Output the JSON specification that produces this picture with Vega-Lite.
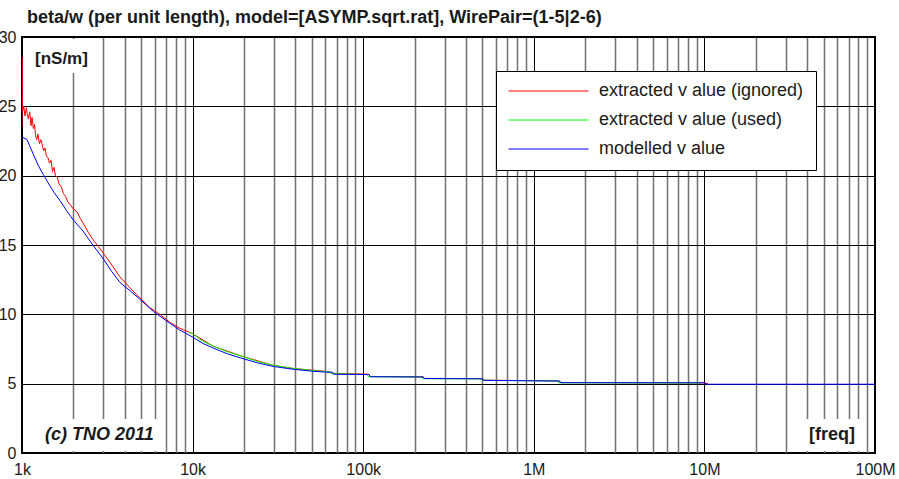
{
  "$schema": "https://vega.github.io/schema/vega-lite/v6.json",
  "width": 853,
  "height": 416,
  "autosize": {"type": "none"},
  "padding": {"left": 22, "top": 37, "right": 24, "bottom": 26},
  "background": "white",
  "view": {"stroke": "black", "strokeWidth": 2},
  "title": {
    "text": "beta/w (per unit length), model=[ASYMP.sqrt.rat], WirePair=(1-5|2-6)",
    "anchor": "start",
    "frame": "group",
    "dx": 5,
    "offset": -12,
    "baseline": "alphabetic",
    "font": "Liberation Sans",
    "fontSize": 18,
    "fontWeight": "bold",
    "color": "#1a1a1a"
  },
  "config": {
    "font": "Liberation Sans",
    "legend": {
      "orient": "none",
      "legendX": 474,
      "legendY": 34,
      "fillColor": "white",
      "strokeColor": "black",
      "strokeWidth": 1,
      "padding": 12,
      "symbolType": "stroke",
      "symbolSize": 6400,
      "symbolStrokeWidth": 1,
      "clipHeight": 16,
      "rowPadding": 11,
      "labelFont": "Liberation Sans",
      "labelFontSize": 18,
      "labelColor": "#1a1a1a",
      "labelOffset": 10,
      "labelLimit": 400,
      "title": null
    }
  },
  "datasets": {
    "ignored": [
      {"f": 1000, "v": 23.6}, {"f": 1001, "v": 28.5}, {"f": 1004, "v": 25.2}, {"f": 1010, "v": 24.7},
      {"f": 1025, "v": 25.0}, {"f": 1040, "v": 24.3}, {"f": 1060, "v": 24.9}, {"f": 1075, "v": 24.4},
      {"f": 1090, "v": 24.1}, {"f": 1110, "v": 24.6}, {"f": 1130, "v": 23.6}, {"f": 1145, "v": 24.2},
      {"f": 1165, "v": 23.4}, {"f": 1185, "v": 23.7}, {"f": 1200, "v": 22.9}, {"f": 1220, "v": 22.6},
      {"f": 1240, "v": 23.0}, {"f": 1265, "v": 22.3}, {"f": 1290, "v": 22.6}, {"f": 1320, "v": 22.1},
      {"f": 1340, "v": 21.8}, {"f": 1365, "v": 22.0}, {"f": 1390, "v": 21.4}, {"f": 1420, "v": 21.3},
      {"f": 1450, "v": 20.9}, {"f": 1480, "v": 21.1}, {"f": 1510, "v": 20.3}, {"f": 1540, "v": 20.6},
      {"f": 1570, "v": 20.0}, {"f": 1610, "v": 19.9}, {"f": 1650, "v": 19.4}, {"f": 1700, "v": 19.2},
      {"f": 1750, "v": 18.7}, {"f": 1800, "v": 18.5}, {"f": 1860, "v": 18.1}, {"f": 1920, "v": 17.9},
      {"f": 2000, "v": 17.6}, {"f": 2100, "v": 17.4}, {"f": 2200, "v": 16.9}, {"f": 2300, "v": 16.5},
      {"f": 2450, "v": 15.9}, {"f": 2600, "v": 15.4}, {"f": 2800, "v": 14.9}, {"f": 3000, "v": 14.4},
      {"f": 3300, "v": 13.7}, {"f": 3750, "v": 12.7}, {"f": 4300, "v": 11.9}, {"f": 4900, "v": 11.2},
      {"f": 5600, "v": 10.5}, {"f": 6500, "v": 9.95}, {"f": 7400, "v": 9.4}, {"f": 8400, "v": 9.0},
      {"f": 10000, "v": 8.6}, {"f": 13200, "v": 7.7}, {"f": 19800, "v": 6.95}, {"f": 29500, "v": 6.33},
      {"f": 38700, "v": 6.1}, {"f": 61000, "v": 5.88}, {"f": 66000, "v": 5.75}, {"f": 108000, "v": 5.68},
      {"f": 110000, "v": 5.52}, {"f": 225000, "v": 5.5}, {"f": 228000, "v": 5.38}, {"f": 500000, "v": 5.37},
      {"f": 505000, "v": 5.25}, {"f": 1400000, "v": 5.2}, {"f": 1430000, "v": 5.08}, {"f": 10000000, "v": 5.06},
      {"f": 10500000, "v": 5.0}
    ],
    "used": [
      {"f": 9500, "v": 8.7}, {"f": 10000, "v": 8.6}, {"f": 11500, "v": 8.05}, {"f": 13200, "v": 7.72},
      {"f": 16000, "v": 7.3}, {"f": 19800, "v": 6.95}, {"f": 24000, "v": 6.6}, {"f": 29500, "v": 6.33},
      {"f": 38700, "v": 6.1}, {"f": 50000, "v": 5.95}, {"f": 61000, "v": 5.86}, {"f": 64000, "v": 5.85},
      {"f": 65000, "v": 5.72}, {"f": 106000, "v": 5.66}, {"f": 107000, "v": 5.5}, {"f": 222000, "v": 5.48},
      {"f": 224000, "v": 5.36}, {"f": 495000, "v": 5.35}, {"f": 498000, "v": 5.24}, {"f": 1390000, "v": 5.2},
      {"f": 1400000, "v": 5.06}, {"f": 9500000, "v": 5.05}
    ],
    "model": [
      {"f": 1000, "v": 22.8}, {"f": 1070, "v": 22.6}, {"f": 1160, "v": 21.6}, {"f": 1250, "v": 20.7},
      {"f": 1330, "v": 20.1}, {"f": 1420, "v": 19.5}, {"f": 1540, "v": 18.8}, {"f": 1670, "v": 18.2},
      {"f": 1820, "v": 17.5}, {"f": 2000, "v": 16.8}, {"f": 2280, "v": 16.0}, {"f": 2600, "v": 15.0},
      {"f": 3000, "v": 14.0}, {"f": 3350, "v": 13.1}, {"f": 3750, "v": 12.3}, {"f": 4300, "v": 11.7},
      {"f": 4900, "v": 11.1}, {"f": 5900, "v": 10.2}, {"f": 6900, "v": 9.6}, {"f": 8400, "v": 8.87},
      {"f": 10000, "v": 8.36}, {"f": 11500, "v": 7.9}, {"f": 13200, "v": 7.57}, {"f": 16000, "v": 7.15},
      {"f": 19800, "v": 6.8}, {"f": 24000, "v": 6.5}, {"f": 29500, "v": 6.25}, {"f": 38700, "v": 6.04},
      {"f": 50000, "v": 5.9}, {"f": 61000, "v": 5.83}, {"f": 66000, "v": 5.83}, {"f": 67000, "v": 5.68},
      {"f": 108000, "v": 5.66}, {"f": 110000, "v": 5.5}, {"f": 225000, "v": 5.48}, {"f": 228000, "v": 5.37},
      {"f": 500000, "v": 5.35}, {"f": 505000, "v": 5.24}, {"f": 1420000, "v": 5.19}, {"f": 1440000, "v": 5.07},
      {"f": 10000000, "v": 5.06}, {"f": 10300000, "v": 4.96}, {"f": 100000000, "v": 4.96}
    ],
    "boxes": [
      {"f1": 1100, "f2": 2800, "v1": 27.4, "v2": 29.85},
      {"f1": 1400, "f2": 6600, "v1": 0.15, "v2": 2.45},
      {"f1": 35000000, "f2": 86000000, "v1": 0.15, "v2": 2.45}
    ],
    "notes": [
      {"f": 1192, "v": 28.4, "label": "[nS/m]", "kind": "unit"},
      {"f": 1364, "v": 1.3, "label": "(c) TNO 2011", "kind": "copyright"},
      {"f": 76400000, "v": 1.3, "label": "[freq]", "kind": "axis"}
    ]
  },
  "encoding": {
    "x": {
      "field": "f",
      "type": "quantitative",
      "scale": {"type": "log", "domain": [1000, 100000000], "nice": false},
      "axis": {
        "title": null,
        "values": [1000, 2000, 3000, 4000, 5000, 6000, 7000, 8000, 9000,
                   10000, 20000, 30000, 40000, 50000, 60000, 70000, 80000, 90000,
                   100000, 200000, 300000, 400000, 500000, 600000, 700000, 800000, 900000,
                   1000000, 2000000, 3000000, 4000000, 5000000, 6000000, 7000000, 8000000, 9000000,
                   10000000, 20000000, 30000000, 40000000, 50000000, 60000000, 70000000, 80000000, 90000000,
                   100000000],
        "labelExpr": "abs(log(datum.value)/LN10 - round(log(datum.value)/LN10)) < 0.000001 ? (datum.value >= 1000000 ? format(datum.value/1000000, 'd') + 'M' : format(datum.value/1000, 'd') + 'k') : ''",
        "labelOverlap": false,
        "labelFlush": false,
        "labelBound": false,
        "ticks": false,
        "domain": false,
        "labelPadding": 8,
        "labelFont": "Liberation Sans",
        "labelFontSize": 16,
        "labelColor": "#1a1a1a",
        "grid": true,
        "gridColor": {"condition": {"test": "abs(log(datum.value)/LN10 - round(log(datum.value)/LN10)) < 0.000001", "value": "black"}, "value": "#707070"},
        "gridWidth": {"condition": {"test": "abs(log(datum.value)/LN10 - round(log(datum.value)/LN10)) < 0.000001", "value": 1}, "value": 1.5},
        "gridOpacity": 1
      }
    },
    "y": {
      "field": "v",
      "type": "quantitative",
      "scale": {"domain": [0, 30], "nice": false, "zero": true},
      "axis": {
        "title": null,
        "values": [0, 5, 10, 15, 20, 25, 30],
        "labelFlush": false,
        "labelOverlap": false,
        "labelBound": false,
        "ticks": false,
        "domain": false,
        "labelPadding": 6,
        "labelFont": "Liberation Sans",
        "labelFontSize": 16,
        "labelColor": "#1a1a1a",
        "grid": true,
        "gridColor": "black",
        "gridWidth": 1,
        "gridOpacity": 1
      }
    }
  },
  "layer": [
    {
      "data": {"name": "ignored"},
      "mark": {"type": "line", "strokeWidth": 1, "clip": true},
      "encoding": {
        "color": {
          "datum": "extracted v alue (ignored)",
          "type": "nominal",
          "scale": {
            "domain": ["extracted v alue (ignored)", "extracted v alue (used)", "modelled v alue"],
            "range": ["#ff0000", "#00ff00", "#0000ff"]
          }
        }
      }
    },
    {
      "data": {"name": "used"},
      "mark": {"type": "line", "strokeWidth": 1, "clip": true},
      "encoding": {"color": {"datum": "extracted v alue (used)", "type": "nominal"}}
    },
    {
      "data": {"name": "model"},
      "mark": {"type": "line", "strokeWidth": 1, "clip": true},
      "encoding": {"color": {"datum": "modelled v alue", "type": "nominal"}}
    },
    {
      "data": {"name": "boxes"},
      "mark": {"type": "rect", "fill": "white", "stroke": null},
      "encoding": {
        "x": {"field": "f1", "type": "quantitative"},
        "x2": {"field": "f2"},
        "y": {"field": "v1", "type": "quantitative"},
        "y2": {"field": "v2"}
      }
    },
    {
      "data": {"name": "notes"},
      "transform": [{"filter": "datum.kind == 'unit'"}],
      "mark": {"type": "text", "align": "left", "font": "Liberation Sans", "fontSize": 17, "fontWeight": "bold", "baseline": "middle", "color": "#1a1a1a"},
      "encoding": {"text": {"field": "label"}}
    },
    {
      "data": {"name": "notes"},
      "transform": [{"filter": "datum.kind == 'copyright'"}],
      "mark": {"type": "text", "align": "left", "font": "Liberation Sans", "fontSize": 18, "fontWeight": "bold", "fontStyle": "italic", "baseline": "middle", "color": "#1a1a1a"},
      "encoding": {"text": {"field": "label"}}
    },
    {
      "data": {"name": "notes"},
      "transform": [{"filter": "datum.kind == 'axis'"}],
      "mark": {"type": "text", "align": "right", "font": "Liberation Sans", "fontSize": 18, "fontWeight": "bold", "baseline": "middle", "color": "#1a1a1a"},
      "encoding": {"text": {"field": "label"}}
    }
  ]
}
